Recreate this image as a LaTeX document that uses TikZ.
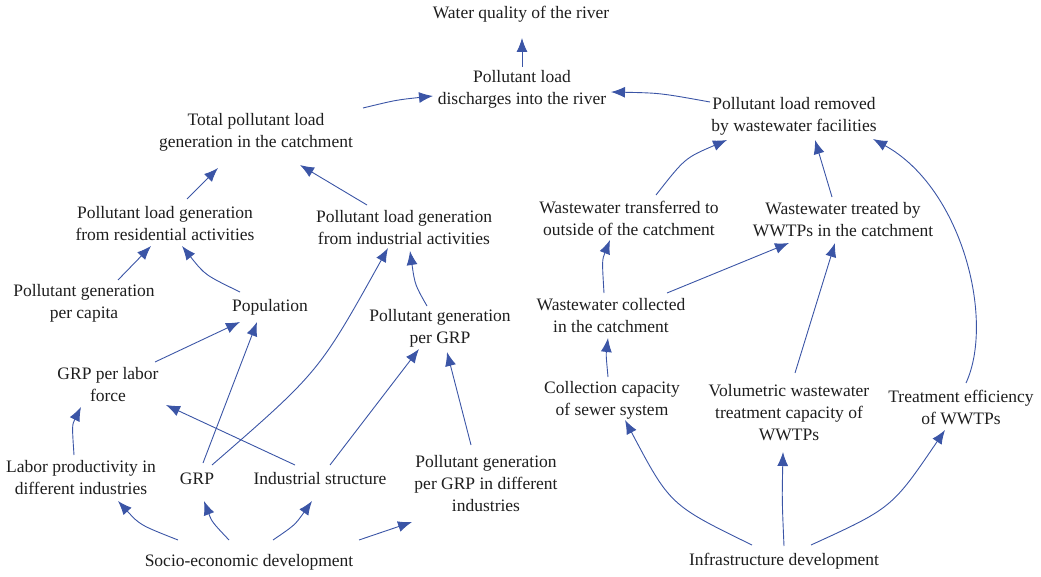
\documentclass[tikz,border=0pt]{standalone}
\usepackage{fontspec}
\setmainfont{Liberation Serif}
\newfontfamily\tnrfont{Liberation Serif}
\usetikzlibrary{arrows.meta,calc}
\definecolor{arrowcol}{RGB}{59,85,166}
\definecolor{txtcol}{RGB}{30,30,30}
\begin{document}
\begin{tikzpicture}[x=1pt,y=-1pt,
  lbl/.style={align=center,inner sep=0pt,text=txtcol,font=\tnrfont\fontsize{17.5}{22}\selectfont},
  conn/.style={draw=arrowcol,line width=0.9pt,-{Latex[length=14pt,width=11pt]}}]
\useasboundingbox (0,0) rectangle (1041,577);
% nodes
\node[lbl] (wq) at (521,14) {Water quality of the river};
\node[lbl] (pld) at (522,89) {Pollutant load\\discharges into the river};
\node[lbl] (tot) at (256,132) {Total pollutant load\\generation in the catchment};
\node[lbl] (rem) at (794,116) {Pollutant load removed\\by wastewater facilities};
\node[lbl] (res) at (165,224) {Pollutant load generation\\from residential activities};
\node[lbl] (ind) at (404,228) {Pollutant load generation\\from industrial activities};
\node[lbl] (pcap) at (84,303) {Pollutant generation\\per capita};
\node[lbl] (pop) at (270,307) {Population};
\node[lbl] (pgrp) at (440,328) {Pollutant generation\\per GRP};
\node[lbl] (lab) at (108,385) {GRP per labor\\force};
\node[lbl] (lprod) at (81,478) {Labor productivity in\\different industries};
\node[lbl] (grp) at (197,479) {GRP};
\node[lbl] (istr) at (320,479) {Industrial structure};
\node[lbl] (pgd) at (486,484) {Pollutant generation\\per GRP in different\\industries};
\node[lbl] (socio) at (249,562) {Socio-economic development};
\node[lbl] (wtr) at (629,218) {Wastewater transferred to\\outside of the catchment};
\node[lbl] (wtrt) at (843,220) {Wastewater treated by\\WWTPs in the catchment};
\node[lbl] (wcol) at (611,316) {Wastewater collected\\in the catchment};
\node[lbl] (ccap) at (612,400) {Collection capacity\\of sewer system};
\node[lbl] (vol) at (789,413) {Volumetric wastewater\\treatment capacity of\\WWTPs};
\node[lbl] (teff) at (961,407) {Treatment efficiency\\of WWTPs};
\node[lbl] (infra) at (784,561) {Infrastructure development};
% connectors
\draw[conn] ($(pld)+(0,-22)$) -- ($(wq)+(1,24)$);
\draw[conn] ($(tot)+(107,-24)$) .. controls (396,100) .. ($(pld)+(-89,7)$);
\draw[conn] ($(rem)+(-84,-14)$) .. controls (660,93) .. ($(pld)+(89,3)$);
\draw[conn] ($(res)+(22,-25)$) -- ($(tot)+(-38,36)$);
\draw[conn] ($(ind)+(-37,-23)$) -- ($(tot)+(44,33)$);
\draw[conn] ($(wtr)+(27,-23)$) .. controls (685,158) .. ($(rem)+(-67,24)$);
\draw[conn] ($(wtrt)+(-11,-23)$) -- ($(rem)+(21,24)$);
\draw[conn] ($(teff)+(5,-24)$) .. controls (995,320) and (962,188) .. ($(rem)+(79,23)$);
\draw[conn] ($(pcap)+(34,-23)$) -- ($(res)+(-14,22)$);
\draw[conn] ($(pop)+(-30,-15)$) .. controls (205,275) .. ($(res)+(17,22)$);
\draw[conn] ($(lab)+(47,-23)$) -- ($(pop)+(-30,15)$);
\draw[conn] ($(grp)+(6,-16)$) -- ($(pop)+(-13,15)$);
\draw[conn] ($(grp)+(15,-14)$) .. controls (319,372) .. ($(ind)+(-16,20)$);
\draw[conn] ($(pgrp)+(-13,-22)$) .. controls (415,285) .. ($(ind)+(6,23)$);
\draw[conn] ($(istr)+(-25,-14)$) -- ($(lab)+(58,20)$);
\draw[conn] ($(istr)+(10,-14)$) -- ($(pgrp)+(-21,21)$);
\draw[conn] ($(pgd)+(-15,-39)$) -- ($(pgrp)+(7,24)$);
\draw[conn] ($(lprod)+(-7,-23)$) .. controls (72,425) .. ($(lab)+(-27,22)$);
\draw[conn] ($(socio)+(-71,-22)$) .. controls (140,525) .. ($(lprod)+(37,23)$);
\draw[conn] ($(socio)+(-20,-22)$) .. controls (212,522) .. ($(grp)+(7,22)$);
\draw[conn] ($(socio)+(24,-22)$) .. controls (295,525) .. ($(istr)+(-8,22)$);
\draw[conn] ($(socio)+(110,-22)$) -- ($(pgd)+(-74,38)$);
\draw[conn] ($(wcol)+(-7,-23)$) .. controls (602,260) .. ($(wtr)+(-19,22)$);
\draw[conn] ($(wcol)+(56,-23)$) -- ($(wtrt)+(-54,23)$);
\draw[conn] ($(vol)+(6,-40)$) -- ($(wtrt)+(-8,23)$);
\draw[conn] ($(ccap)+(-4,-23)$) .. controls (606,355) .. ($(wcol)+(-3,22)$);
\draw[conn] ($(infra)+(-32,-16)$) .. controls (670,505) .. ($(ccap)+(13,20)$);
\draw[conn] ($(infra)+(0,-15)$) .. controls (782,500) .. ($(vol)+(-6,39)$);
\draw[conn] ($(infra)+(27,-16)$) .. controls (892,508) .. ($(teff)+(-16,23)$);
\end{tikzpicture}
\end{document}
